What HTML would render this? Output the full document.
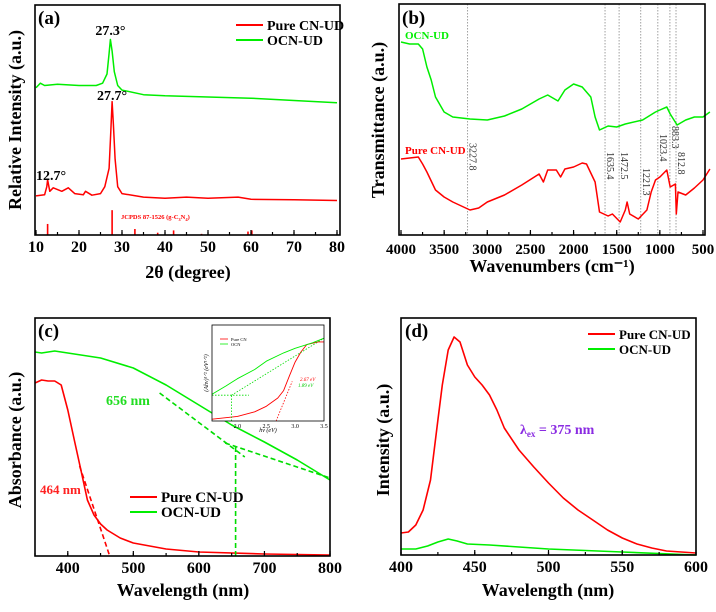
<!DOCTYPE html>
<html><head><meta charset="utf-8">
<style>
html,body{margin:0;padding:0;background:#fff;}
svg{display:block;font-family:"Liberation Serif",serif;}
</style></head>
<body>
<svg id="fig" width="716" height="612" viewBox="0 0 716 612" xmlns="http://www.w3.org/2000/svg"></svg>
<script>
// ---- Panel (a) XRD ----
const aGreenX=[10,11,12,15,20,24,25.5,26.5,27,27.3,27.7,28.2,29,30,35,40,50,60,70,80];
const aGreenY=[64,66,65,65.5,65,65,66,70,79,85,80,71,65,63,61,60.5,60,59.5,58.5,57.5];
const aRedX=[10,12,12.5,12.7,13.2,14,16,17.5,19,21,21.5,23,25,26,27,27.4,27.7,28,28.4,29,30,35,40,45,50,57,60,70,80];
const aRedY=[17,17.5,21,24,19,20.5,19,20.5,18,17.5,19,17.3,18,21,29,45,58,48,33,21,18,16.5,16,16.5,16,16.5,15.5,15.3,15];
const aStickX=[12.7,27.7,33,38.3,42,48.5,59.3,60.2];
const aStickH=[4.8,10.8,2.6,1,2,0.5,1.5,2];
const aXTicks=[10,20,30,40,50,60,70,80];
// ---- Panel (b) FTIR ----
const bGreenX=[4000,3900,3800,3750,3700,3650,3600,3500,3400,3200,3000,2800,2600,2400,2300,2200,2180,2100,2000,1900,1800,1750,1700,1600,1500,1400,1200,1050,1000,920,880,800,700,600,500,420];
const bGreenY=[193,191,191,186,168,155,138,123,118,116,115,119,126,136,140,135,134,145,151,148,138,118,105,109,108,111,115,123,125,128,121,110,115,118,118,123];
const bRedX=[4000,3800,3750,3700,3600,3500,3400,3200,3100,3000,2800,2600,2400,2350,2300,2200,2150,2100,2000,1900,1850,1750,1700,1600,1550,1460,1400,1380,1350,1250,1150,1100,1050,1000,920,880,820,810,790,700,600,500,420];
const bRedY=[76,78,71,63,45,38,33,25,27,33,40,50,61,53,65,65,58,66,68,72,71,53,23,19,21,13,25,33,21,16,25,43,55,58,65,48,51,21,43,40,47,55,66];
const bMarks=[3227.8,1635.4,1472.5,1221.3,1023.4,883.3,812.8];
const bMarkLabelY=[143,152,152,168,134,126,152];
const bXTicks=[4000,3500,3000,2500,2000,1500,1000,500];
// ---- Panel (c) UV-vis ----
const cGreenX=[350,360,380,400,450,500,550,600,650,700,750,800];
const cGreenY=[204,203,205,203,198,188,171,151,131,114,96,76];
const cRedX=[350,360,370,380,390,400,410,420,430,440,450,460,480,500,550,600,700,800];
const cRedY=[173,176,175,175,171,146,116,86,56,41,32,26,18,13,7,4,2,1];
const cGreenTanX=[540,670];
const cGreenTanY=[163,99];
const cGreenBaseX=[640,800];
const cGreenBaseY=[113,78];
const cRedTanX=[418,464];
const cRedTanY=[90,0];
const cEdgeX=[656];
const cXTicks=[400,500,600,700,800];
// inset
const iRedX=[1.56,2.0,2.3,2.5,2.7,2.8,2.9,3.0,3.1,3.2,3.4,3.5];
const iRedY=[2,5,10,16,25,33,49,64,75,83,86,86];
const iGreenX=[1.56,1.8,2.0,2.3,2.5,2.8,3.0,3.3,3.5];
const iGreenY=[29,38,46,56,65,74,79,85,90];
const iGreenTanX=[1.9,3.5];
const iGreenTanY=[28,90];
const iRedTanX=[2.67,2.95];
const iRedTanY=[0,43];
const iXTicks=[2.0,2.5,3.0,3.5];
const iXTickLabels=["2.0","2.5","3.0","3.5"];
// ---- Panel (d) PL ----
const dRedX=[400,405,410,415,420,425,428,432,436,440,445,450,455,460,465,470,480,490,500,510,520,530,540,550,560,570,580,600];
const dRedY=[22,23,30,45,75,135,170,205,218,213,190,178,170,160,145,127,105,88,72,57,45,35,25,17,11,7,4,2];
const dGreenX=[400,410,418,425,432,438,445,460,480,500,550,600];
const dGreenY=[6,6,9,13,16,14,11,10,8,6,3,0];
const dXTicks=[400,450,500,550,600];

const NS="http://www.w3.org/2000/svg";
const svg=document.getElementById('fig');
function el(tag,attrs,parent){const e=document.createElementNS(NS,tag);for(const k in attrs)e.setAttribute(k,attrs[k]);(parent||svg).appendChild(e);return e;}
function lin(d0,d1,r0,r1){return v=>r0+(v-d0)/(d1-d0)*(r1-r0);}
function path(xs,ys,sx,sy,color,w,dash,name){
  let d='';for(let i=0;i<xs.length;i++)d+=(i?'L':'M')+sx(xs[i]).toFixed(1)+','+sy(ys[i]).toFixed(1);
  const p=el('path',{d:d,fill:'none',stroke:color,'stroke-width':w,'stroke-linejoin':'round'});
  if(dash)p.setAttribute('stroke-dasharray',dash);
  
  
  return p;}
function txt(x,y,s,opts,name){
  const t=el('text',Object.assign({x:x,y:y,'font-weight':'bold','font-size':15,fill:'#000'},opts||{}));
  t.textContent=s;
  
  
  return t;}
function frame(l,t,r,b,name){
  const f=el('rect',{x:l,y:t,width:r-l,height:b-t,fill:'none',stroke:'#000','stroke-width':1.6});
  
  }
function xticks(ticks,labels,sx,b,minorStep,lo,hi,name,fs,len){
  for(let v=lo;v<=hi+1e-9;v+=minorStep){const x=sx(v);
    const tk=el('line',{x1:x,x2:x,y1:b,y2:b-(len||3),stroke:'#000','stroke-width':1.2});
    
    }
  ticks.forEach((v,i)=>{const x=sx(v);
    const tk=el('line',{x1:x,x2:x,y1:b,y2:b-(len?len*1.6:5),stroke:'#000','stroke-width':1.2});
    
    
    txt(x,b+(fs?fs+4:17),labels[i],{'text-anchor':'middle','font-size':fs||16},name+'-tick-label');});}
function legend(x,y,color,label,name,fs){
  const l=el('line',{x1:x,x2:x+27,y1:y,y2:y,stroke:color,'stroke-width':2});
  
  
  txt(x+31,y+5,label,{'font-size':fs||14},name+'-label');}

// Panel a
(function(){
  const L=35,T=5,R=340,B=235;
  const sx=lin(10,80,36,337), sy=lin(0,100,B,B-230);
  for(let i=0;i<aStickX.length;i++){const x=sx(aStickX[i]);
    const s=el('line',{x1:x,x2:x,y1:B,y2:sy(aStickH[i]),stroke:'#ff0000','stroke-width':1.6});
    
    }
  path(aRedX,aRedY,sx,sy,'#ff0000',1.5,null,'pure-cn-ud-xrd-line');
  path(aGreenX,aGreenY,sx,sy,'#00ee00',1.5,null,'ocn-ud-xrd-line');
  frame(L,T,R,B,'panel-a-plot-frame');
  xticks(aXTicks,aXTicks.map(String),sx,B,5,10,80,'panel-a-x');
  txt(38,24,'(a)',{'font-size':19},'panel-a-letter');
  legend(236,25,'#ff0000','Pure CN-UD','panel-a-legend-pure');
  legend(236,40,'#00ee00','OCN-UD','panel-a-legend-ocn');
  txt(sx(27.3),35,'27.3°',{'text-anchor':'middle','font-size':14},'peak-label-27-3');
  txt(sx(27.7),100,'27.7°',{'text-anchor':'middle','font-size':14},'peak-label-27-7');
  txt(36,180,'12.7°',{'text-anchor':'start','font-size':14},'peak-label-12-7');
  const j=txt(121,219,'JCPDS 87-1526  (g-C',{'font-size':6.5,fill:'#ff0000'},'jcpds-label');
  const s1=el('tspan',{'font-size':4.5,dy:2},j);s1.textContent='3';
  const s2=el('tspan',{dy:-2},j);s2.textContent='N';
  const s3=el('tspan',{'font-size':4.5,dy:2},j);s3.textContent='4';
  const s4=el('tspan',{dy:-2},j);s4.textContent=')';
  txt(188,278,'2θ (degree)',{'text-anchor':'middle','font-size':18},'panel-a-x-axis-title');
  txt(0,0,'Relative Intensity (a.u.)',{'text-anchor':'middle','font-size':18,transform:'translate(21,120) rotate(-90)'},'panel-a-y-axis-title');
})();

// Panel b
(function(){
  const L=399,T=4,R=705,B=235;
  const sx=lin(4000,500,401,703), sy=lin(0,229,B,B-229);
  bMarks.forEach((m,i)=>{const x=sx(m);
    const v=el('line',{x1:x,x2:x,y1:T,y2:B,stroke:'#888','stroke-width':0.8,'stroke-dasharray':'1.5,1.5'});
    
    
    txt(0,0,String(m),{'font-weight':'normal','font-size':10,fill:'#333',transform:'translate('+(x+2)+','+bMarkLabelY[i]+') rotate(90)'},'ftir-band-label');});
  path(bRedX,bRedY,sx,sy,'#ff0000',1.5,null,'pure-cn-ud-ftir-line');
  path(bGreenX,bGreenY,sx,sy,'#00ee00',1.5,null,'ocn-ud-ftir-line');
  frame(L,T,R,B,'panel-b-plot-frame');
  xticks(bXTicks,bXTicks.map(String),sx,B,250,500,4000,'panel-b-x',15);
  txt(402,24,'(b)',{'font-size':19},'panel-b-letter');
  txt(405,39,'OCN-UD',{'font-size':11,fill:'#00ee00'},'ocn-ud-ftir-label');
  txt(405,154,'Pure CN-UD',{'font-size':11,fill:'#ff0000'},'pure-cn-ud-ftir-label');
  txt(552,272,'Wavenumbers (cm⁻¹)',{'text-anchor':'middle','font-size':18},'panel-b-x-axis-title');
  txt(0,0,'Transmittance (a.u.)',{'text-anchor':'middle','font-size':18,transform:'translate(384,120) rotate(-90)'},'panel-b-y-axis-title');
})();

// Panel c
(function(){
  const L=35,T=318,R=330,B=556;
  const sx=lin(350,800,35,330), sy=lin(0,238,B,B-238);
  path(cRedX,cRedY,sx,sy,'#ff0000',1.6,null,'pure-cn-ud-absorbance-line');
  path(cGreenX,cGreenY,sx,sy,'#00ee00',1.6,null,'ocn-ud-absorbance-line');
  path(cGreenTanX,cGreenTanY,sx,sy,'#00dd00',1.6,'5,3','ocn-ud-tangent-line');
  path(cGreenBaseX,cGreenBaseY,sx,sy,'#00dd00',1.6,'5,3','ocn-ud-baseline-line');
  path(cRedTanX,cRedTanY,sx,sy,'#ff0000',1.6,'5,3','pure-cn-ud-tangent-line');
  path([cEdgeX[0],cEdgeX[0]],[0,cGreenBaseY[0]+(cEdgeX[0]-cGreenBaseX[0])*(cGreenBaseY[1]-cGreenBaseY[0])/(cGreenBaseX[1]-cGreenBaseX[0])],sx,sy,'#00dd00',1.6,'5,3','ocn-ud-edge-drop-line');
  frame(L,T,R,B,'panel-c-plot-frame');
  xticks(cXTicks,cXTicks.map(String),sx,B,50,350,800,'panel-c-x');
  txt(38,337,'(c)',{'font-size':19},'panel-c-letter');
  txt(106,405,'656 nm',{'font-size':14,fill:'#22dd22'},'edge-label-656');
  txt(40,494,'464 nm',{'font-size':13,fill:'#ff2222'},'edge-label-464');
  legend(130,497,'#ff0000','Pure CN-UD','panel-c-legend-pure',15);
  legend(130,512,'#00ee00','OCN-UD','panel-c-legend-ocn',15);
  txt(183,596,'Wavelength (nm)',{'text-anchor':'middle','font-size':18},'panel-c-x-axis-title');
  txt(0,0,'Absorbance (a.u.)',{'text-anchor':'middle','font-size':18,transform:'translate(21,440) rotate(-90)'},'panel-c-y-axis-title');
  // inset
  const iL=212,iT=325,iR=324,iB=421;
  const bg=el('rect',{x:iL,y:iT,width:iR-iL,height:iB-iT,fill:'#fff'});
  
  
  const ix=lin(1.56,3.5,iL,iR), iy=lin(0,100,iB,iB-92);
  path(iRedX,iRedY,ix,iy,'#ff0000',0.9,null,'inset-pure-cn-line');
  path(iGreenX,iGreenY,ix,iy,'#00ee00',0.9,null,'inset-ocn-line');
  path(iGreenTanX,iGreenTanY,ix,iy,'#00dd00',0.8,'1.5,1.5','inset-ocn-tangent');
  path([1.56,2.2],[28,28],ix,iy,'#00dd00',0.8,'1.5,1.5','inset-ocn-horizontal');
  path([1.9,1.9],[0,28],ix,iy,'#00dd00',0.8,'1.5,1.5','inset-ocn-drop');
  path(iRedTanX,iRedTanY,ix,iy,'#ff0000',0.8,'1.5,1.5','inset-pure-cn-tangent');
  const fr=el('rect',{x:iL,y:iT,width:iR-iL,height:iB-iT,fill:'none',stroke:'#000','stroke-width':0.8});
  
  
  iXTicks.forEach((v,i)=>{txt(ix(v),iB+7,iXTickLabels[i],{'text-anchor':'middle','font-size':6,'font-weight':'normal'},'inset-x-tick-label');});
  txt(268,432,'hν (eV)',{'text-anchor':'middle','font-size':6,'font-weight':'normal','font-style':'italic'},'inset-x-axis-title');
  txt(0,0,'(Ahν)¹ᐟ² (eV¹ᐟ²)',{'text-anchor':'middle','font-size':6,'font-weight':'normal','font-style':'italic',transform:'translate(208,373) rotate(-90)'},'inset-y-axis-title');
  const l1=el('line',{x1:220,x2:228,y1:339,y2:339,stroke:'#ff0000','stroke-width':0.8});
  
  
  txt(231,341,'Pure CN',{'font-size':4.5,'font-weight':'normal'},'inset-legend-pure-label');
  const l2=el('line',{x1:220,x2:228,y1:344,y2:344,stroke:'#00ee00','stroke-width':0.8});
  
  
  txt(231,346,'OCN',{'font-size':4.5,'font-weight':'normal'},'inset-legend-ocn-label');
  txt(300,381,'2.67 eV',{'font-size':5,'font-weight':'normal','font-style':'italic',fill:'#ff0000'},'inset-gap-label-pure');
  txt(298,387,'1.89 eV',{'font-size':5,'font-weight':'normal','font-style':'italic',fill:'#00cc00'},'inset-gap-label-ocn');
})();

// Panel d
(function(){
  const L=401,T=318,R=696,B=555;
  const sx=lin(400,600,401,696), sy=lin(0,237,B,B-237);
  path(dRedX,dRedY,sx,sy,'#ff0000',1.6,null,'pure-cn-ud-pl-line');
  path(dGreenX,dGreenY,sx,sy,'#00ee00',1.6,null,'ocn-ud-pl-line');
  frame(L,T,R,B,'panel-d-plot-frame');
  xticks(dXTicks,dXTicks.map(String),sx,B,25,400,600,'panel-d-x');
  txt(405,337,'(d)',{'font-size':19},'panel-d-letter');
  legend(588,334,'#ff0000','Pure CN-UD','panel-d-legend-pure',13);
  legend(588,349,'#00ee00','OCN-UD','panel-d-legend-ocn',13);
  const lt=txt(520,434,'λ',{'font-size':14,fill:'#8a2be2'},'excitation-label');
  const sb=el('tspan',{'font-size':9,dy:3},lt);sb.textContent='ex';
  const rest=el('tspan',{dy:-3},lt);rest.textContent=' = 375 nm';
  txt(548,596,'Wavelength (nm)',{'text-anchor':'middle','font-size':18},'panel-d-x-axis-title');
  txt(0,0,'Intensity (a.u.)',{'text-anchor':'middle','font-size':18,transform:'translate(389,440) rotate(-90)'},'panel-d-y-axis-title');
})();
</script>
</body></html>
